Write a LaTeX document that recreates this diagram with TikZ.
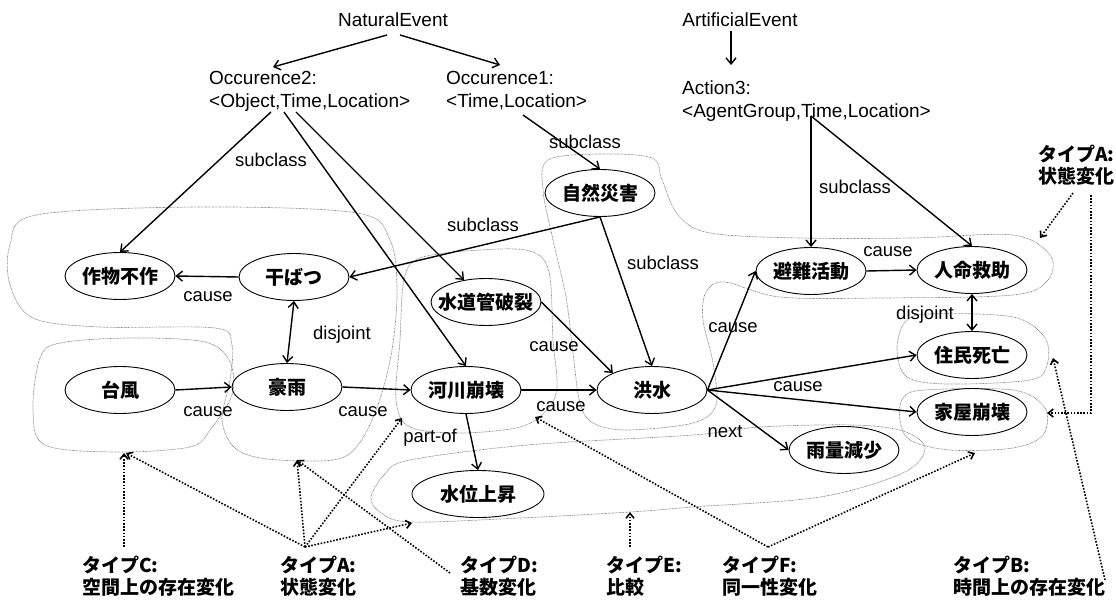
\documentclass[tikz,border=0pt]{standalone}
\usepackage{fontspec}
\setmainfont{Liberation Sans}
\newfontfamily\jp{Noto Sans CJK JP}
\usetikzlibrary{shapes.geometric,arrows.meta,calc}
\newcommand\evtxt[1]{\makebox[0pt]{#1}}
\begin{document}
\begin{tikzpicture}[x=1pt,y=-1pt,
  every node/.style={font=\fontsize{19}{23}\selectfont, inner sep=0pt},
  ev/.style={ellipse, draw, line width=0.9pt, minimum width=110pt, minimum height=47pt, font=\fontsize{19}{23}\selectfont\jp\bfseries},
  lbl/.style={font=\fontsize{18.5}{22}\selectfont},
  rel/.style={line width=1.4pt, -{Straight Barb[length=6pt,width=10pt]}},
  dis/.style={line width=1.4pt, {Straight Barb[length=6pt,width=10pt]}-{Straight Barb[length=6pt,width=10pt]}},
  tp/.style={dash pattern=on 1.6pt off 1.6pt, line width=1.6pt, -{Straight Barb[length=5pt,width=8pt]}},
  grp/.style={gray, line width=0.7pt, dash pattern=on 0.7pt off 0.7pt},
  typ/.style={align=left, anchor=north west, font=\fontsize{19}{22}\selectfont\jp\bfseries},
]
\path[use as bounding box] (0,0) rectangle (1116,601);

% group outlines
\draw[grp] plot[smooth cycle, tension=0.55] coordinates {(10,245) (36,215) (200,207) (357,213) (390,240) (397,290) (392,350) (378,405) (358,445) (333,460) (267,459) (235,448) (222,420) (230,380) (232,345) (215,328) (100,327) (33,318) (10,285)};
\draw[grp] plot[smooth cycle, tension=0.55] coordinates {(40,358) (60,343) (130,338) (205,342) (230,362) (232,395) (210,430) (190,447) (117,452) (45,445) (33,410)};
\draw[grp] plot[smooth cycle, tension=0.55] coordinates {(420,258) (480,250) (530,251) (549,272) (553,340) (557,387) (547,410) (520,427) (460,433) (410,427) (396,400) (400,340) (404,280)};
\draw[grp] plot[smooth cycle, tension=0.55] coordinates {(548,160) (600,154) (652,158) (662,180) (678,215) (710,233) (800,238) (913,238) (1013,235) (1050,255) (1048,280) (1013,295) (880,298) (780,297) (725,282) (706,292) (703,320) (713,363) (716,405) (693,423) (627,430) (593,423) (580,403) (573,353) (566,297) (553,240) (543,190)};
\draw[grp] plot[smooth cycle, tension=0.55] coordinates {(905,322) (930,314) (1013,317) (1045,338) (1047,365) (1030,380) (947,384) (907,377) (897,350)};
\draw[grp] plot[smooth cycle, tension=0.55] coordinates {(903,398) (925,390) (1013,390) (1045,408) (1043,435) (1013,448) (950,450) (910,440) (900,420)};
\draw[grp] plot[smooth cycle, tension=0.55] coordinates {(371,497) (385,474) (410,460) (527,445) (693,435) (760,427) (853,425) (903,431) (925,448) (903,473) (820,497) (693,507) (630,512) (520,518) (410,522) (380,512)};

% top class nodes
\node (ne) at (393,20) {NaturalEvent};
\node (ae) at (740,20) {ArtificialEvent};
\node[align=left, anchor=north west] (occ2) at (209,71) {Occurence2:\\<Object,Time,Location>};
\node[align=left, anchor=north west] (occ1) at (446,71) {Occurence1:\\<Time,Location>};
\node[align=left, anchor=north west] (act3) at (682,81) {Action3:\\<AgentGroup,Time,Location>};

% event nodes
\node[ev] (sakumotsu) at (120,276) {\evtxt{作物不作}};
\node[ev] (kanbatsu) at (294,277) {\evtxt{干ばつ}};
\node[ev] (taifu) at (120,390) {\evtxt{台風}};
\node[ev] (gou) at (287,387) {\evtxt{豪雨}};
\node[ev] (suido) at (486,302) {\evtxt{水道管破裂}};
\node[ev] (kasen) at (466,390) {\evtxt{河川崩壊}};
\node[ev, minimum width=132pt] (suii) at (478,494) {\evtxt{水位上昇}};
\node[ev] (shizen) at (600,193) {\evtxt{自然災害}};
\node[ev] (kouzui) at (652,390) {\evtxt{洪水}};
\node[ev] (hinan) at (811,271) {\evtxt{避難活動}};
\node[ev] (jinmei) at (972,270) {\evtxt{人命救助}};
\node[ev] (jumin) at (972,355) {\evtxt{住民死亡}};
\node[ev] (kaoku) at (972,412) {\evtxt{家屋崩壊}};
\node[ev] (uryo) at (844,450) {\evtxt{雨量減少}};

% type labels
\node[typ] (tC) at (82,556) {タイプC:\\空間上の存在変化};
\node[typ] (tA) at (280,556) {タイプA:\\状態変化};
\node[typ] (tD) at (460,556) {タイプD:\\基数変化};
\node[typ] (tE) at (606,556) {タイプE:\\比較};
\node[typ] (tF) at (722,556) {タイプF:\\同一性変化};
\node[typ] (tB) at (953,556) {タイプB:\\時間上の存在変化};
\node[typ] (tA2) at (1038,145) {タイプA:\\状態変化};

% connector end points
\coordinate (nel) at (387,35);
\coordinate (ner) at (400,35);
\coordinate (o2a) at (271,112);
\coordinate (o2b) at (284,112);
\coordinate (o2c) at (296,112);
\coordinate (o1s) at (523,115);
\coordinate (a3s) at (811,116);

% solid connectors
\draw[rel] (nel) -- ($(occ2.north west)+(64,-4)$);
\draw[rel] (ner) -- ($(occ1.north west)+(54,-6)$);
\draw[rel] ($(ae.south)+(-9,4)$) -- ($(act3.north west)+(49,-16)$);
\draw[rel] (o2a) -- (sakumotsu.north);
\draw[rel] (o2b) -- (kasen.north);
\draw[rel] (o2c) -- (suido);
\draw[rel] (o1s) -- (shizen.north);
\draw[rel] (a3s) -- (hinan.north);
\draw[rel] (a3s) -- (jinmei.north);
\draw[rel] (shizen.south) -- (kanbatsu.east);
\draw[rel] (shizen.south) -- (kouzui.north);
\draw[rel] (kanbatsu.west) -- (sakumotsu.east);
\draw[dis] (kanbatsu.south) -- (gou.north);
\draw[rel] (taifu.east) -- (gou.west);
\draw[rel] (gou.east) -- (kasen.west);
\draw[rel] (kasen.east) -- (kouzui.west);
\draw[rel] (suido.east) -- (kouzui.north west);
\draw[rel] (kasen.south) -- (suii.north);
\draw[rel] (kouzui.east) -- (hinan.west);
\draw[rel] (kouzui.east) -- (jumin.west);
\draw[rel] (kouzui.east) -- (kaoku.west);
\draw[rel] (kouzui.east) -- (uryo.west);
\draw[rel] (hinan.east) -- (jinmei.west);
\draw[dis] (jinmei.south) -- (jumin.north);

% connector labels
\node[lbl] (l1) at (271,160) {subclass};
\node[lbl] (l2) at (483,225) {subclass};
\node[lbl] (l3) at (585,142) {subclass};
\node[lbl] (l4) at (663,263) {subclass};
\node[lbl] (l5) at (855,187) {subclass};
\node[lbl] (l6) at (208,297) {cause};
\node[lbl] (l7) at (342,335) {disjoint};
\node[lbl] (l8) at (208,412) {cause};
\node[lbl] (l9) at (363,412) {cause};
\node[lbl] (l10) at (554,347) {cause};
\node[lbl] (l11) at (561,407) {cause};
\node[lbl] (l12) at (430,438) {part-of};
\node[lbl] (l13) at (733,328) {cause};
\node[lbl] (l14) at (888,252) {cause};
\node[lbl] (l15) at (925,315) {disjoint};
\node[lbl] (l16) at (798,387) {cause};
\node[lbl] (l17) at (725,432) {next};

% dotted type connectors
\coordinate (sC) at (124,547);
\coordinate (sA) at (305,547);
\coordinate (sD) at (450,573);
\coordinate (sE) at (630,547);
\coordinate (sF) at (768,547);
\coordinate (sB) at (1105,580);
\coordinate (sA2) at (1073,193);
\coordinate (sA3) at (1091,195);
\coordinate (gTaifu) at (124,453);
\coordinate (gTaifu2) at (126,453);
\coordinate (gGou) at (297,460);
\coordinate (gKasen) at (402,418);
\coordinate (gKasen2) at (535,417);
\coordinate (gSuii) at (412,523);
\coordinate (gSuii2) at (630,512);
\coordinate (gKaoku) at (975,453);
\coordinate (gKaoku2) at (1047,413);
\coordinate (gJumin) at (1053,358);
\coordinate (gJinmei) at (1040,238);
\coordinate (bend) at (1091,413);

\draw[tp] (sC) -- (gTaifu);
\draw[tp] (sA) -- (gTaifu2);
\draw[tp] (sA) -- (gGou);
\draw[tp] (sA) -- (gKasen);
\draw[tp] (sA) -- (gSuii);
\draw[tp] (sD) -- (gGou);
\draw[tp] (sE) -- (gSuii2);
\draw[tp] (sF) -- (gKaoku);
\draw[tp] (sF) -- (gKasen2);
\draw[tp] (sB) -- (gJumin);
\draw[tp] (sA2) -- (gJinmei);
\draw[tp] (sA3) -- (bend) -- (gKaoku2);
\end{tikzpicture}
\end{document}
